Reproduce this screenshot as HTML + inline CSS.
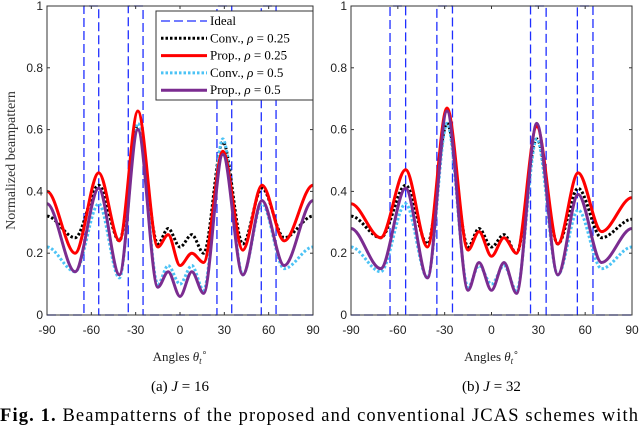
<!DOCTYPE html>
<html><head><meta charset="utf-8"><style>
body{margin:0;background:#fff;width:640px;height:429px;overflow:hidden}
svg text{font-family:"Liberation Sans",sans-serif}
.serif{font-family:"Liberation Serif",serif}
</style></head><body>
<svg id="c" width="640" height="429" xmlns="http://www.w3.org/2000/svg"></svg>
<script>
const angles=[-90,-71,-55,-41,-28.5,-15,-8,0,8,16,29,42.5,55.5,70.5,90];
const xTicks=[-90,-60,-30,0,30,60,90];
const yTicks=[0,0.2,0.4,0.6,0.8,1];
const yTickLabels=["0","0.2","0.4","0.6","0.8","1"];
const idealEdges=[-65,-55,-35,-25,25,35,55,65];
// panel a (J=16)
const aConv25=[0.32,0.25,0.42,0.24,0.61,0.23,0.28,0.22,0.26,0.20,0.56,0.23,0.41,0.25,0.32];
const aProp25=[0.40,0.20,0.46,0.24,0.66,0.22,0.26,0.16,0.20,0.17,0.53,0.21,0.42,0.24,0.42];
const aConv5=[0.22,0.14,0.36,0.12,0.62,0.10,0.16,0.10,0.16,0.08,0.57,0.13,0.36,0.15,0.22];
const aProp5=[0.36,0.14,0.41,0.13,0.60,0.09,0.14,0.06,0.14,0.07,0.52,0.13,0.37,0.16,0.37];
// panel b (J=32)
const bConv25=[0.32,0.25,0.42,0.23,0.62,0.22,0.28,0.22,0.26,0.20,0.57,0.23,0.41,0.25,0.31];
const bProp25=[0.36,0.25,0.47,0.22,0.67,0.21,0.27,0.19,0.25,0.20,0.61,0.23,0.46,0.27,0.38];
const bConv5=[0.22,0.14,0.36,0.12,0.62,0.09,0.16,0.10,0.16,0.08,0.57,0.13,0.34,0.15,0.22];
const bProp5=[0.28,0.15,0.41,0.12,0.66,0.08,0.17,0.08,0.17,0.07,0.62,0.13,0.39,0.17,0.28];

const NS="http://www.w3.org/2000/svg";
const svg=document.getElementById('c');
function mk(tag,attrs,parent){const e=document.createElementNS(NS,tag);for(const k in attrs)e.setAttribute(k,attrs[k]);(parent||svg).appendChild(e);return e;}
function smooth(pts){let d=`M${pts[0][0]},${pts[0][1]}`;for(let i=0;i<pts.length-1;i++){const p1=pts[i],p2=pts[i+1];
const c1=[p1[0]+(p2[0]-p1[0])/3,p1[1]];const c2=[p2[0]-(p2[0]-p1[0])/3,p2[1]];
d+=` C${c1[0]},${c1[1]} ${c2[0]},${c2[1]} ${p2[0]},${p2[1]}`;}return d;}
function panel(id,x0,x1,series,withLegend,withYLabel,caption){
  const y0=315,y1=6;
  const g=mk('g',{});
  
  
  const X=a=>x0+(a+90)/180*(x1-x0);
  const Y=v=>y0-v*(y0-y1);
  mk('rect',{x:x0,y:y1,width:x1-x0,height:y0-y1,fill:'#fff'},g);
  const ig=mk('g',{},g);
  
  
  let d=`M${X(-90)},${Y(0)}`;
  for(let i=0;i<idealEdges.length;i+=2){d+=` L${X(idealEdges[i])},${Y(0)} L${X(idealEdges[i])},${Y(1)} L${X(idealEdges[i+1])},${Y(1)} L${X(idealEdges[i+1])},${Y(0)}`;}
  d+=` L${X(90)},${Y(0)}`;
  mk('path',{d,fill:'none',stroke:'#1f2eff','stroke-width':1.3,'stroke-dasharray':'9,4'},ig);
  series.forEach(s=>{
    const pts=angles.map((a,i)=>[X(a),Y(s.v[i])]);
    const p=mk('path',{d:smooth(pts),fill:'none',stroke:s.c,'stroke-width':s.w,'stroke-dasharray':s.dash||'none'},g);
    
    
  });
  mk('rect',{x:x0,y:y1,width:x1-x0,height:y0-y1,fill:'none',stroke:'#333','stroke-width':1},g);
  xTicks.forEach(t=>{
    mk('line',{x1:X(t),x2:X(t),y1:y0,y2:y0-3,stroke:'#333'},g);
    mk('line',{x1:X(t),x2:X(t),y1:y1,y2:y1+3,stroke:'#333'},g);
    const tx=mk('text',{x:X(t),y:334,'font-size':12,'text-anchor':'middle',fill:'#222'},g);tx.textContent=t;
    
    
  });
  yTicks.forEach((t,i)=>{
    mk('line',{x1:x0,x2:x0+3,y1:Y(t),y2:Y(t),stroke:'#333'},g);
    mk('line',{x1:x1,x2:x1-3,y1:Y(t),y2:Y(t),stroke:'#333'},g);
    const tx=mk('text',{x:x0-4,y:Y(t)+4,'font-size':12,'text-anchor':'end',fill:'#222'},g);tx.textContent=yTickLabels[i];
    
    
  });
  const xt=mk('text',{x:(x0+x1)/2,y:361,'font-size':13,'text-anchor':'middle',class:'serif',fill:'#222'},g);
  xt.innerHTML='Angles <tspan font-style="italic">θ</tspan><tspan font-size="9" font-style="italic" dy="3">t</tspan><tspan font-size="9" dy="-9">∘</tspan>';
  
  
  const cp=mk('text',{x:(x0+x1)/2,y:391,'font-size':15,'text-anchor':'middle',class:'serif',fill:'#000'},g);
  cp.innerHTML=caption;
  
  
  if(withYLabel){const yl=mk('text',{x:0,y:0,'font-size':14,'text-anchor':'middle',class:'serif',fill:'#333',transform:`translate(15,${(y0+y1)/2}) rotate(-90)`},g);yl.textContent='Normalized beampattern';
    
    }
  if(withLegend){
    const lg=mk('g',{},g);
    
    
    mk('rect',{x:156,y:11,width:157,height:89,fill:'#fff',stroke:'#333','stroke-width':1},lg);
    const items=[['Ideal','#1f2eff',1.3,'9,4'],['Conv., <tspan font-style="italic">ρ</tspan> = 0.25','#000',3,'2.5,2'],['Prop., <tspan font-style="italic">ρ</tspan> = 0.25','#ff0000',3,null],['Conv., <tspan font-style="italic">ρ</tspan> = 0.5','#4cc3f5',3,'2.5,2'],['Prop., <tspan font-style="italic">ρ</tspan> = 0.5','#7b2c90',3,null]];
    items.forEach((it,i)=>{const yy=21+i*17.3;
      const e=mk('g',{},lg);
      
      
      mk('line',{x1:161,x2:207,y1:yy,y2:yy,stroke:it[1],'stroke-width':it[2],'stroke-dasharray':it[3]||'none'},e);
      const t=mk('text',{x:210,y:yy+4,'font-size':13,class:'serif',fill:'#000'},e);t.innerHTML=it[0];});
  }
}
const ser=(c25,p25,c5,p5)=>[
 {n:'conv-rho-0.25',v:c25,c:'#000',w:3,dash:'2.5,2'},
 {n:'conv-rho-0.5',v:c5,c:'#4cc3f5',w:3,dash:'2.5,2'},
 {n:'prop-rho-0.25',v:p25,c:'#ff0000',w:3},
 {n:'prop-rho-0.5',v:p5,c:'#7b2c90',w:3}];
panel('panel-a',47,313,ser(aConv25,aProp25,aConv5,aProp5),true,true,'(a) <tspan font-style="italic">J</tspan> = 16');
panel('panel-b',351,632,ser(bConv25,bProp25,bConv5,bProp5),false,false,'(b) <tspan font-style="italic">J</tspan> = 32');
const f=mk('text',{x:0,y:421,'font-size':18.5,class:'serif',fill:'#000',textLength:638,lengthAdjust:'spacing'});
f.innerHTML='<tspan font-weight="bold">Fig. 1.</tspan>   Beampatterns of the proposed and conventional JCAS schemes with';


</script>
</body></html>
